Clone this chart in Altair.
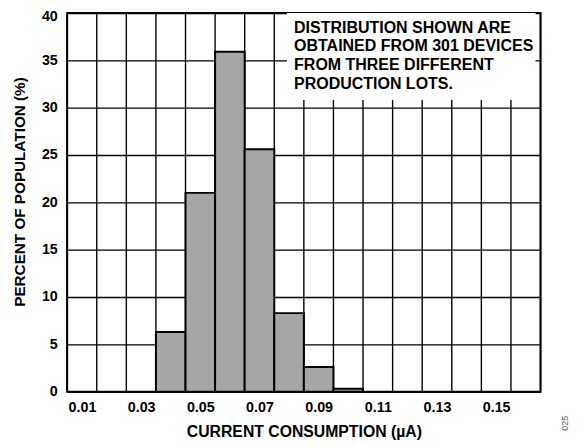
import altair as alt
import pandas as pd

# Histogram data (bin centres in µA, percent of population)
bin_centers = [0.04, 0.05, 0.06, 0.07, 0.08, 0.09, 0.10]
percents = [6.3, 21.0, 35.9, 25.6, 8.3, 2.6, 0.3]
bin_width = 0.01

x_min, x_max = 0.005, 0.165
y_min, y_max = 0, 40
grid_x = [round(0.005 + 0.01 * k, 3) for k in range(17)]
x_labels = [0.01, 0.03, 0.05, 0.07, 0.09, 0.11, 0.13, 0.15]
y_ticks = [0, 5, 10, 15, 20, 25, 30, 35, 40]

note_lines = ["DISTRIBUTION SHOWN ARE", "OBTAINED FROM 301 DEVICES",
              "FROM THREE DIFFERENT", "PRODUCTION LOTS."]
note_box = {"x": 0.0793, "x2": 0.1633, "y": 30.8, "y2": 40}
note_pos = {"x": 0.0817, "y": 38.44}

df = pd.DataFrame({
    "lo": [round(c - bin_width / 2, 3) for c in bin_centers],
    "hi": [round(c + bin_width / 2, 3) for c in bin_centers],
    "pct": percents,
})
grid_df = pd.DataFrame({"gx": grid_x})

FONT = "Liberation Sans"

xscale = alt.Scale(domain=[x_min, x_max], nice=False, zero=False)
yscale = alt.Scale(domain=[y_min, y_max], nice=False)

x_axis = alt.Axis(
    values=x_labels, grid=False, ticks=False, domain=False,
    format=".2f", labelPadding=9, labelFlush=False, labelOverlap=False,
    title="CURRENT CONSUMPTION (µA)", titlePadding=10, titleFontSize=16)
y_axis = alt.Axis(
    values=y_ticks, grid=True, ticks=False, domain=False,
    labelPadding=10,
    labelOffset={"condition": {"test": "datum.value == 40", "value": 3.5}, "value": 0},
    title="PERCENT OF POPULATION (%)", titlePadding=14, titleFontSize=15.5,
    titleY=181)

vgrid = alt.Chart(grid_df).mark_rule(color="black", strokeWidth=1.4).encode(
    x=alt.X("gx:Q", scale=xscale, axis=x_axis),
)

bars = alt.Chart(df).mark_rect(
    color="#a6a6a6", stroke="black", strokeWidth=2
).encode(
    x=alt.X("lo:Q", scale=xscale, axis=x_axis),
    x2="hi:Q",
    y=alt.Y("pct:Q", scale=yscale, axis=y_axis),
    y2=alt.datum(0),
)

box = alt.Chart(pd.DataFrame([note_box])).mark_rect(color="white").encode(
    x=alt.X("x:Q", scale=xscale, axis=x_axis), x2="x2:Q",
    y=alt.Y("y:Q", scale=yscale, axis=y_axis), y2="y2:Q",
)

note = alt.Chart(pd.DataFrame([{**note_pos, "t": "\n".join(note_lines)}])).mark_text(
    align="left", baseline="middle", font=FONT, fontWeight="bold",
    fontSize=16.2, lineHeight=19, lineBreak="\n", color="black"
).encode(
    x=alt.X("x:Q", scale=xscale, axis=x_axis),
    y=alt.Y("y:Q", scale=yscale, axis=y_axis), text="t:N"
)

code = alt.Chart(pd.DataFrame([{"t": "025"}])).mark_text(
    angle=270, font=FONT, fontSize=9, color="#555555"
).encode(x=alt.value(505), y=alt.value(416), text="t:N")

chart = alt.layer(vgrid, bars, box, note, code).properties(
    width=480, height=384,
    autosize=alt.AutoSizeParams(type="none"),
    padding={"left": 60, "top": 2, "right": 39, "bottom": 52},
).configure_view(
    stroke="black", strokeWidth=2
).configure_axis(
    gridColor="black", gridWidth=1.4, gridOpacity=1,
    labelFont=FONT, labelFontWeight="bold", labelFontSize=14.5, labelColor="black",
    titleFont=FONT, titleFontWeight="bold", titleColor="black",
)

chart.save("out.html", embed_options={"renderer": "svg", "actions": False})
